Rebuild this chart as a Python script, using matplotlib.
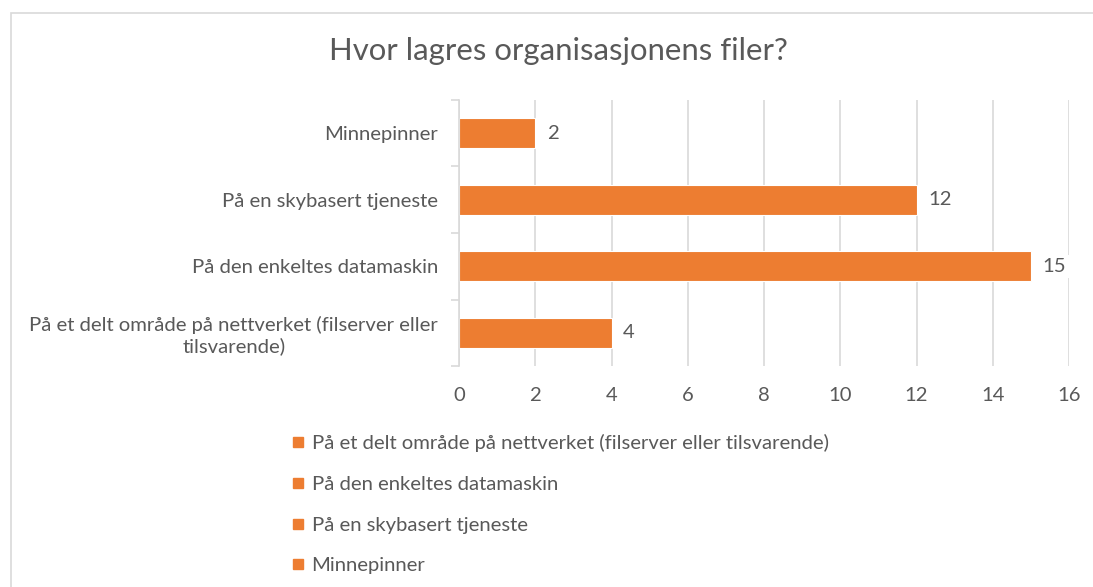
import matplotlib
matplotlib.use("Agg")
import matplotlib.pyplot as plt
from matplotlib.lines import Line2D
from matplotlib.patches import Rectangle

# data (top to bottom as shown)
categories = [
    "Minnepinner",
    "På en skybasert tjeneste",
    "På den enkeltes datamaskin",
    "På et delt område på nettverket (filserver eller\ntilsvarende)",
]
values = [2, 12, 15, 4]
legend_labels = [
    "På et delt område på nettverket (filserver eller tilsvarende)",
    "På den enkeltes datamaskin",
    "På en skybasert tjeneste",
    "Minnepinner",
]
x_ticks = [0, 2, 4, 6, 8, 10, 12, 14, 16]

ORANGE = "#ED7D31"
GRAY = "#595959"
GRID = "#D9D9D9"
FS = 14.6

plt.rcParams["font.family"] = ["Lato", "DejaVu Sans"]

W, H = 1093, 587
fig = plt.figure(figsize=(W / 100, H / 100), dpi=100)

# chart border (cut off at right and bottom)
fig.patches.append(Rectangle((11 / W, -0.1), 1.2, 1 - 13 / H + 0.1,
                             transform=fig.transFigure, fill=False,
                             edgecolor=GRID, linewidth=1.2))

ax = fig.add_axes([459 / W, (H - 366) / H, (1069 - 459) / W, (366 - 100) / H])

y = list(range(len(categories)))
bars = ax.barh(y, values, height=0.45, color=ORANGE, edgecolor="white",
               linewidth=0.8, zorder=2)
ax.set_ylim(len(categories) - 0.5, -0.5)
ax.set_xlim(0, 16)
ax.set_xticks(x_ticks)
ax.set_xticklabels([str(t) for t in x_ticks])
ax.set_yticks(y)
ax.set_yticklabels(categories, multialignment="center")

for i, v in enumerate(values):
    ax.text(v + 0.3, i, str(v), va="center", ha="left", fontsize=FS,
            color=GRAY, zorder=3,
            bbox=dict(facecolor="white", edgecolor="none", pad=2))

ax.grid(axis="x", color=GRID, linewidth=1.2, zorder=0)
ax.set_axisbelow(True)
for side in ["top", "right", "bottom"]:
    ax.spines[side].set_visible(False)
ax.spines["left"].set_color(GRID)
ax.spines["left"].set_linewidth(1.2)

ax.tick_params(axis="x", length=0, labelsize=FS, labelcolor=GRAY, pad=15)
ax.tick_params(axis="y", length=0, labelsize=FS, labelcolor=GRAY, pad=15)

# small tick marks at category boundaries
ax.set_yticks([i - 0.5 for i in range(len(categories) + 1)], minor=True)
ax.tick_params(axis="y", which="minor", length=6, color=GRID, width=1.2)

fig.text(558 / W, 1 - 51 / H, "Hvor lagres organisasjonens filer?",
         ha="center", va="center", fontsize=22.4, color=GRAY)

handles = [Line2D([], [], marker="s", linestyle="none", color=ORANGE,
                  markersize=6.5) for _ in legend_labels]
fig.legend(handles, legend_labels, loc="upper left",
           bbox_to_anchor=(270 / W, 1 - 416 / H), frameon=False,
           fontsize=FS, labelcolor=GRAY, labelspacing=1.16,
           handletextpad=0.15, handlelength=1.0)

fig.savefig("out.png", dpi=100)
